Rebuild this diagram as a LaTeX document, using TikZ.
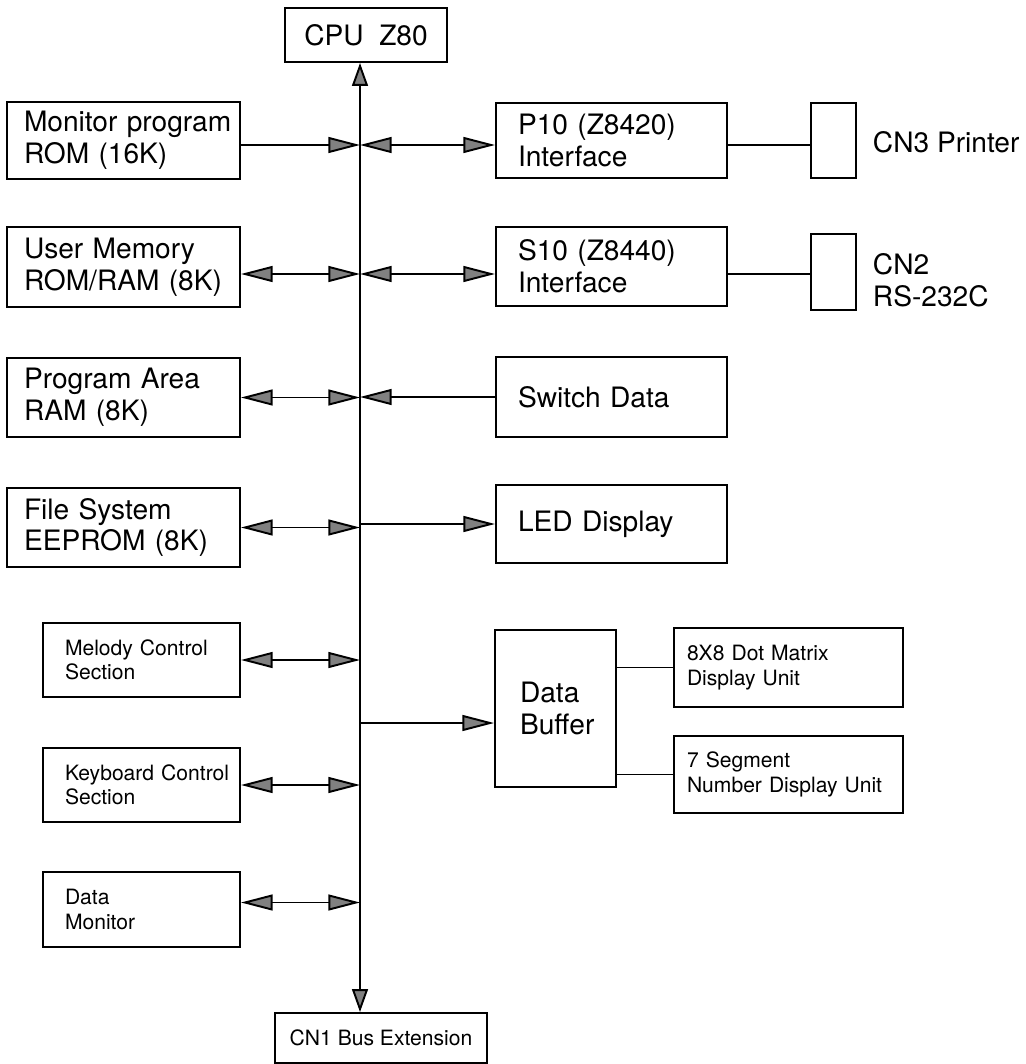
\documentclass[tikz,border=0pt]{standalone}
\usepackage{fontspec}
\setmainfont{TeX Gyre Heros}
\usetikzlibrary{arrows.meta}
\newcommand\bigtxt{\fontsize{16}{18}\selectfont}
\newcommand\smalltxt{\fontsize{12}{14}\selectfont}

\begin{document}
\begin{tikzpicture}[x=1cm,y=1cm,line width=1.1pt,
  >={Triangle[length=18pt,width=9pt,fill=black!50]},
  busarrow/.style={{Triangle[length=13pt,width=9pt,fill=black!50]}-{Triangle[length=13pt,width=9pt,fill=black!50]}},
  blk/.style={draw,line width=1.1pt,inner ysep=0pt,align=left},
  lbox/.style={blk,font=\bigtxt,text width=3.98cm,inner xsep=0.34cm,minimum height=1.58cm},
  rbox/.style={blk,font=\bigtxt,text width=3.74cm,inner xsep=0.44cm,minimum height=1.58cm},
  sbox/.style={blk,font=\smalltxt,text width=3.06cm,inner xsep=0.44cm,minimum height=1.48cm},
  dbox/.style={blk,font=\smalltxt,text width=4.06cm,inner xsep=0.26cm,minimum height=1.56cm}]
\useasboundingbox (0,0) rectangle (20.5,-21.28);
% processor and bus extension
\node[blk,font=\bigtxt,align=center,minimum width=3.24cm,minimum height=1.08cm] (cpu) at (7.32,-0.70) {CPU~~Z80};
\node[blk,font=\smalltxt,align=center,minimum width=4.24cm,minimum height=1.0cm] (cn1) at (7.62,-20.76) {CN1 Bus Extension};
% left column
\node[lbox,minimum height=1.54cm] (rom) at (2.47,-2.81) {\mbox{Monitor program}\\ROM (16K)};
\node[lbox,minimum height=1.6cm] (usr) at (2.47,-5.34) {User Memory\\\mbox{ROM/RAM (8K)}};
\node[lbox] (prg) at (2.47,-7.95) {Program Area\\RAM (8K)};
\node[lbox] (fsys) at (2.47,-10.55) {File System\\EEPROM (8K)};
\node[sbox] (mel) at (2.83,-13.2) {\mbox{Melody Control}\\Section};
\node[sbox] (kbd) at (2.83,-15.7) {\mbox{Keyboard Control}\\Section};
\node[sbox,minimum height=1.5cm] (dmon) at (2.83,-18.19) {Data\\Monitor};
% right column
\node[rbox,minimum height=1.5cm] (pio) at (12.23,-2.81) {P10 (Z8420)\\Interface};
\node[rbox] (sio) at (12.23,-5.33) {S10 (Z8440)\\Interface};
\node[rbox,minimum height=1.6cm] (swd) at (12.23,-7.94) {Switch Data};
\node[rbox,minimum height=1.56cm] (led) at (12.23,-10.48) {LED Display};
\node[blk,font=\bigtxt,text width=1.42cm,inner xsep=0.5cm,minimum height=3.14cm] (buf) at (11.11,-14.17) {Data\\Buffer};
\node[dbox,minimum height=1.58cm] (dot) at (15.77,-13.35) {8X8 Dot Matrix\\Display Unit};
\node[dbox,minimum height=1.54cm] (seg) at (15.77,-15.49) {7 Segment\\\mbox{Number Display Unit}};
% connectors
\node[blk,minimum width=0.9cm,minimum height=1.5cm] (cn3) at (16.67,-2.81) {};
\node[blk,minimum width=0.9cm,minimum height=1.52cm] (cn2) at (16.67,-5.44) {};
\node[font=\bigtxt,anchor=west,inner sep=0pt] (cn3lbl) at (17.44,-2.84) {CN3 Printer};
\node[font=\bigtxt,anchor=west,align=left,inner sep=0pt] (cn2lbl) at (17.44,-5.6) {CN2\\RS-232C};
% bus
\coordinate (bx) at (7.2,0);
\coordinate (r1) at ([yshift=-0.09cm]rom.east);
\coordinate (r2) at ([yshift=-0.14cm]usr.east);
\coordinate (r7) at ([yshift=0.14cm]dmon.east);
\draw[busarrow] (bx |- cn1.north) -- (bx |- cpu.south);
\draw[->] (r1) -- (bx |- r1);
\draw[<->] (r2) -- (bx |- r2);
\draw[<->] (prg.east) -- (bx |- prg.east);
\draw[<->] (fsys.east) -- (bx |- fsys.east);
\draw[<->] (mel.east) -- (bx |- mel.east);
\draw[<->] (kbd.east) -- (bx |- kbd.east);
\draw[<->] (r7) -- (bx |- r7);
\draw[<->] (bx |- r1) -- (pio.west |- r1);
\draw[<->] (bx |- r2) -- (sio.west |- r2);
\draw[->] (swd.west) -- (bx |- swd.west);
\draw[->] (bx |- led.west) -- (led.west);
\coordinate (tap) at (7.2,-14.46);
\draw[->] (tap) -- (tap -| buf.west);
\draw (pio.east |- r1) -- (cn3.west |- r1);
\draw (sio.east |- r2) -- (cn2.west |- r2);
\draw (buf.east |- dot.west) -- (dot.west);
\draw (buf.east |- seg.west) -- (seg.west);
\end{tikzpicture}
\end{document}
